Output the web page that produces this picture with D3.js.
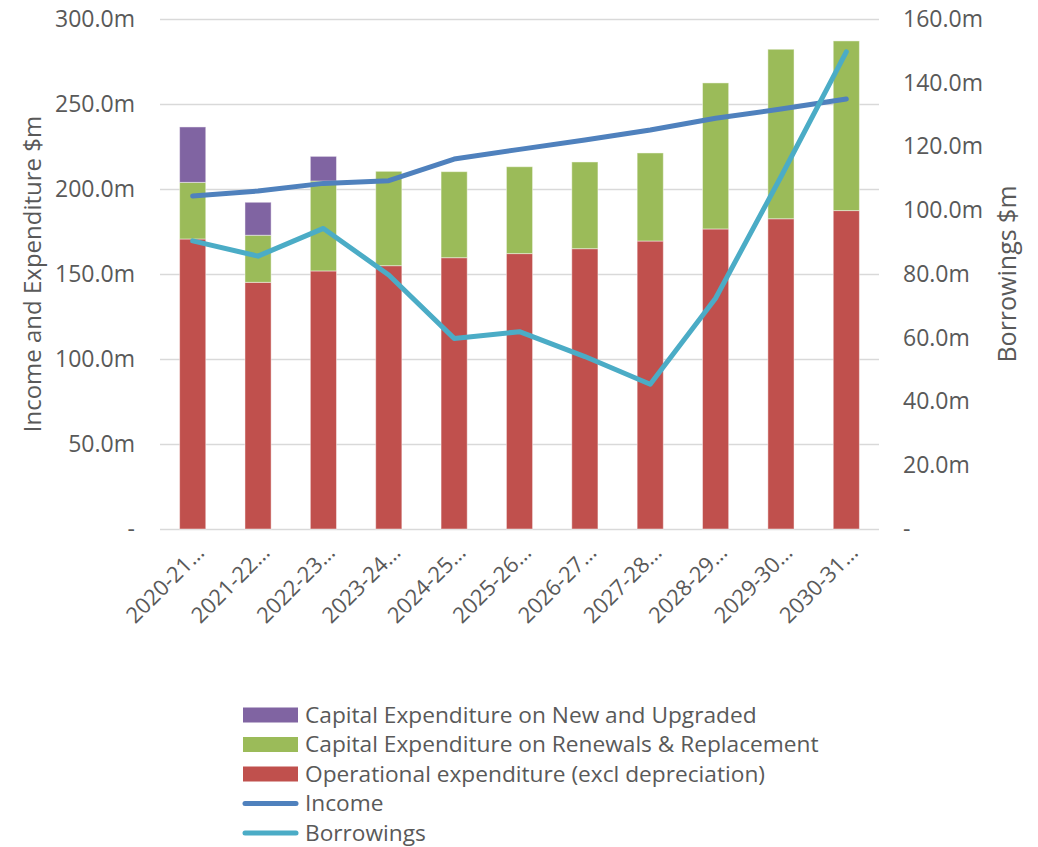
<!DOCTYPE html>
<html>
<head>
<meta charset="utf-8">
<script src="https://cdn.jsdelivr.net/npm/d3@7"></script>
<style>
  body { margin: 0; background: #fff; }
  svg text { font-family: "Open Sans", sans-serif; fill: #595959; }
</style>
</head>
<body>
<div id="chart"></div>
<script>
// Chart data
const years = ["2020-21…", "2021-22…", "2022-23…", "2023-24…", "2024-25…", "2025-26…",
  "2026-27…", "2027-28…", "2028-29…", "2029-30…", "2030-31…"];
const opex = [170.6, 145.1, 151.8, 154.9, 159.6, 162.0, 164.9, 169.4, 176.5, 182.5, 187.3];
const renewals = [33.3, 27.7, 52.9, 55.5, 50.6, 51.1, 51.0, 51.8, 85.9, 99.7, 99.8];
const newUpgraded = [32.6, 19.4, 14.5, 0, 0, 0, 0, 0, 0, 0, 0];
const income = [195.9, 198.8, 203.3, 204.9, 217.6, 223.3, 228.8, 234.7, 241.6, 247.0, 252.9];
const borrowings = [90.4, 85.6, 94.3, 79.7, 59.8, 61.9, 54.1, 45.4, 72.4, 110.5, 149.7];
const leftTicks = [0, 50, 100, 150, 200, 250, 300];
const rightTicks = [0, 20, 40, 60, 80, 100, 120, 140, 160];

const W = 1038, H = 847;
const plot = { left: 160, right: 879, top: 19, bottom: 529 };

const colors = {
  opex: "#C0504D",
  renewals: "#9BBB59",
  newUpgraded: "#8064A2",
  income: "#4F81BD",
  borrowings: "#4BACC6"
};

const svg = d3.select("#chart").append("svg")
  .attr("width", W)
  .attr("height", H);

const x = d3.scaleBand()
  .domain(years)
  .range([plot.left, plot.right])
  .paddingInner(0.6)
  .paddingOuter(0.3);

const yL = d3.scaleLinear().domain([0, 300]).range([plot.bottom, plot.top]);
const yR = d3.scaleLinear().domain([0, 160]).range([plot.bottom, plot.top]);

const fmt = (d) => (d === 0 ? "-" : d.toFixed(1) + "m");

// left axis + gridlines
const gL = svg.append("g")
  .attr("transform", `translate(${plot.left},0)`)
  .call(d3.axisLeft(yL).tickValues(leftTicks).tickFormat(fmt)
    .tickSize(-(plot.right - plot.left)).tickPadding(25));
gL.select(".domain").remove();
gL.selectAll(".tick line").attr("stroke", "#d9d9d9").attr("stroke-width", 1.5);
gL.selectAll(".tick text").style("font-size", "23px").attr("fill", "#595959");

// right axis (labels only)
const gR = svg.append("g")
  .attr("transform", `translate(${plot.right},0)`)
  .call(d3.axisRight(yR).tickValues(rightTicks).tickFormat(fmt).tickSize(0).tickPadding(24));
gR.select(".domain").remove();
gR.selectAll(".tick text").style("font-size", "23px").attr("fill", "#595959");

// stacked bars
const rows = years.map((y, i) => ({ year: y, opex: opex[i], renewals: renewals[i], newUpgraded: newUpgraded[i] }));
const stack = d3.stack().keys(["opex", "renewals", "newUpgraded"]);
const layers = stack(rows);

svg.append("g").selectAll("g")
  .data(layers)
  .join("g")
  .attr("fill", (d) => colors[d.key])
  .selectAll("rect")
  .data((d) => d.filter((p) => p[1] - p[0] > 0))
  .join("rect")
  .attr("x", (d) => x(d.data.year))
  .attr("width", x.bandwidth())
  .attr("y", (d) => yL(d[1]))
  .attr("height", (d) => yL(d[0]) - yL(d[1]))
  .attr("stroke", "#ffffff")
  .attr("stroke-opacity", 0.45)
  .attr("stroke-width", 1);

// lines
const cx = (i) => x(years[i]) + x.bandwidth() / 2;

const incomeLine = d3.line().x((d, i) => cx(i)).y((d) => yL(d));
const borrowLine = d3.line().x((d, i) => cx(i)).y((d) => yR(d));

svg.append("path")
  .datum(income)
  .attr("d", incomeLine)
  .attr("fill", "none")
  .attr("stroke", colors.income)
  .attr("stroke-width", 5)
  .attr("stroke-linecap", "round")
  .attr("stroke-linejoin", "round");

svg.append("path")
  .datum(borrowings)
  .attr("d", borrowLine)
  .attr("fill", "none")
  .attr("stroke", colors.borrowings)
  .attr("stroke-width", 5)
  .attr("stroke-linecap", "round")
  .attr("stroke-linejoin", "round");

// x labels, rotated
svg.append("g").selectAll("text")
  .data(years)
  .join("text")
  .attr("text-anchor", "end")
  .attr("transform", (d, i) => `translate(${cx(i) + 13},${554}) rotate(-45)`)
  .style("font-size", "22px")
  .text((d) => d);

// axis titles
svg.append("text")
  .attr("text-anchor", "middle")
  .attr("transform", `translate(41,${(plot.top + plot.bottom) / 2}) rotate(-90)`)
  .style("font-size", "24px")
  .text("Income and Expenditure $m");

svg.append("text")
  .attr("text-anchor", "middle")
  .attr("transform", `translate(1016,${(plot.top + plot.bottom) / 2}) rotate(-90)`)
  .style("font-size", "25px")
  .text("Borrowings $m");

// legend
const legendItems = [
  { label: "Capital Expenditure on New and Upgraded", key: "newUpgraded", type: "rect" },
  { label: "Capital Expenditure on Renewals & Replacement", key: "renewals", type: "rect" },
  { label: "Operational expenditure (excl depreciation)", key: "opex", type: "rect" },
  { label: "Income", key: "income", type: "line" },
  { label: "Borrowings", key: "borrowings", type: "line" }
];

const legend = svg.append("g");
const lg = legend.selectAll("g")
  .data(legendItems)
  .join("g")
  .attr("transform", (d, i) => `translate(243,${715 + i * 29.5})`);

lg.filter((d) => d.type === "rect").append("rect")
  .attr("x", 0).attr("y", -7.5)
  .attr("width", 55).attr("height", 15)
  .attr("fill", (d) => colors[d.key]);

lg.filter((d) => d.type === "line").append("line")
  .attr("x1", 2).attr("x2", 53)
  .attr("y1", 0).attr("y2", 0)
  .attr("stroke", (d) => colors[d.key])
  .attr("stroke-width", 5)
  .attr("stroke-linecap", "round");

lg.append("text")
  .attr("x", 62)
  .attr("dy", "0.35em")
  .style("font-size", "22.7px")
  .text((d) => d.label);
</script>
</body>
</html>
